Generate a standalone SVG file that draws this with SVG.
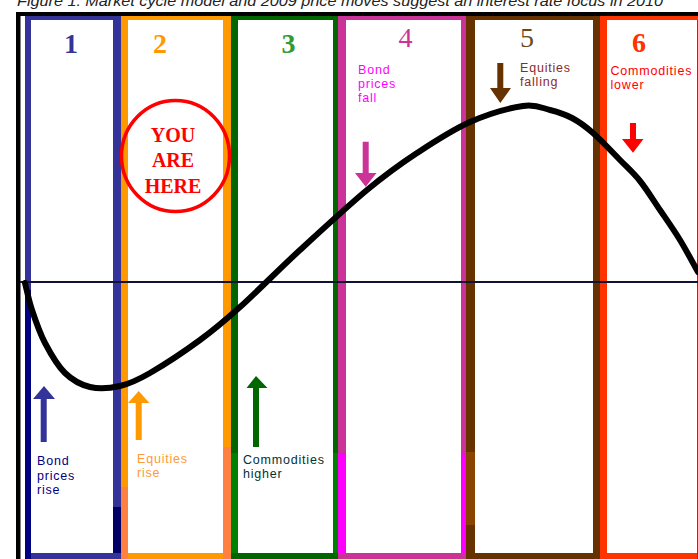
<svg xmlns="http://www.w3.org/2000/svg" width="698" height="559" viewBox="0 0 698 559">
<style>
.num{font-family:"Liberation Serif","Times New Roman",serif;font-size:28px;text-anchor:middle}
.lbl{font-family:"Liberation Sans",Arial,sans-serif;font-size:12.5px;letter-spacing:0.8px}
.here{font-family:"Liberation Serif","Times New Roman",serif;font-size:20px;font-weight:bold;fill:#FF0000;text-anchor:middle}
.inner{fill:#FFFFFF}
</style>
<rect x="0" y="0" width="698" height="559" fill="#FFFFFF"/>
<text x="17" y="5.5" font-family="'Liberation Sans',Arial,sans-serif" font-size="15" font-style="italic" fill="#222222" textLength="646" lengthAdjust="spacingAndGlyphs">Figure 1: Market cycle model and 2009 price moves suggest an interest rate focus in 2010</text>
<g id="frame">
<rect x="16" y="12" width="682" height="4" fill="#000000"/>
<rect x="16" y="12" width="4.5" height="547" fill="#000000"/>
</g>
<g id="phase1">
<rect x="25" y="16" width="96" height="543" fill="#333399"/>
<rect x="25" y="290" width="6" height="269" fill="#000080"/>
<rect x="113" y="507" width="8" height="46" fill="#000066"/>
<rect class="inner" x="31" y="20" width="82" height="533"/>
<text class="num" x="71" y="53" fill="#333399" font-weight="bold">1</text>
<path d="M40.7,442 V399 H33 L44,386 L55,399 H46.7 V442 Z" fill="#333399"/>
<text class="lbl" fill="#000080"><tspan x="37" y="465">Bond</tspan><tspan x="37" y="480">prices</tspan><tspan x="37" y="494">rise</tspan></text>
</g>
<g id="phase2">
<rect x="121" y="16" width="110" height="543" fill="#FF9900"/>
<rect x="121" y="487" width="7" height="72" fill="#FF8040"/>
<rect x="223" y="447" width="8" height="112" fill="#FF8040"/>
<rect class="inner" x="128" y="20" width="95" height="533"/>
<text class="num" x="160" y="53" fill="#FF9900" font-weight="bold">2</text>
<path d="M135.7,440 V403 H128 L138.7,391 L149.4,403 H141.7 V440 Z" fill="#FF9900"/>
<text class="lbl" fill="#FF9933"><tspan x="137" y="463">Equities</tspan><tspan x="137" y="477">rise</tspan></text>
</g>
<g id="phase3">
<rect x="231" y="16" width="107" height="543" fill="#006600"/>
<rect x="231" y="453" width="7" height="100" fill="#008000"/>
<rect x="333" y="453" width="5" height="100" fill="#008000"/>
<rect class="inner" x="238" y="20" width="95" height="533"/>
<text class="num" x="288.5" y="53" fill="#339933" font-weight="bold">3</text>
<path d="M253,447 V388 H246.5 L256,376 L267.5,388 H259 V447 Z" fill="#006600"/>
<text class="lbl" fill="#003333"><tspan x="243" y="464">Commodities</tspan><tspan x="243" y="478">higher</tspan></text>
</g>
<g id="phase4">
<rect x="338" y="16" width="128" height="543" fill="#CC3399"/>
<rect x="338" y="453" width="8" height="100" fill="#FF00FF"/>
<rect x="461" y="453" width="5" height="100" fill="#FF00FF"/>
<rect class="inner" x="346" y="20" width="115" height="533"/>
<text class="num" x="405.5" y="47" fill="#CC3399" font-size="25">4</text>
<path d="M362.7,141.7 V173 H355 L365.7,186.7 L376.5,173 H368.7 V141.7 Z" fill="#CC3399"/>
<text class="lbl" fill="#FF00FF"><tspan x="358" y="74">Bond</tspan><tspan x="358" y="88">prices</tspan><tspan x="358" y="102">fall</tspan></text>
</g>
<g id="phase5">
<rect x="466" y="16" width="134" height="543" fill="#663300"/>
<rect x="466" y="452" width="9" height="73" fill="#884400"/>
<rect class="inner" x="475" y="20" width="118" height="533"/>
<text class="num" x="527" y="47" fill="#6B4A1A">5</text>
<path d="M497.3,63 V88 H490 L500.3,103 L511,88 H503.3 V63 Z" fill="#663300"/>
<text class="lbl" fill="#8B2A2A"><tspan x="520" y="72">Equities</tspan><tspan x="520" y="86">falling</tspan></text>
</g>
<g id="phase6">
<rect x="600" y="16" width="100" height="543" fill="#FF3300"/>
<rect class="inner" x="607" y="20" width="90" height="533"/>
<rect x="697" y="20" width="1" height="539" fill="#FF0000"/>
<text class="num" x="639" y="52" fill="#FF3300" font-weight="bold">6</text>
<path d="M630,123 V139 H622 L633,152.7 L643.5,139 H636 V123 Z" fill="#FF0000"/>
<text class="lbl" fill="#FF0000"><tspan x="610.5" y="75">Commodities</tspan><tspan x="610.5" y="89">lower</tspan></text>
</g>
<g id="you-are-here">
<ellipse cx="175.5" cy="156" rx="54" ry="55.5" fill="none" stroke="#FF0000" stroke-width="3.5"/>
<text class="here" x="173" y="142">YOU</text>
<text class="here" x="173" y="167">ARE</text>
<text class="here" x="173" y="193">HERE</text>
</g>
<g id="connectors">
<line x1="20" y1="282" x2="698" y2="282" stroke="#111133" stroke-width="2"/>
<path d="M25,283 C26.2,287.5 28.7,300 32,310 C35.3,320 39.5,332.5 45,343 C50.5,353.5 57.5,365.7 65,373 C72.5,380.3 80.8,384.8 90,387 C99.2,389.2 110,388.3 120,386 C130,383.7 136.7,380.7 150,373 C163.3,365.3 185,351 200,340 C215,329 223.3,322 240,307 C256.7,292 278.8,269.5 300,250 C321.2,230.5 347.5,206.2 367,190 C386.5,173.8 399.8,164.3 417,153 C434.2,141.7 452.3,129.8 470,122 C487.7,114.2 509.7,108 523,106 C536.3,104 541.8,108 550,110 C558.2,112 564.8,114.2 572,118 C579.2,121.8 585,126 593,133 C601,140 612.2,152 620,160 C627.8,168 633.3,172.7 640,181 C646.7,189.3 653.3,200.2 660,210 C666.7,219.8 673.7,229.7 680,240 C686.3,250.3 695,266.7 698,272" fill="none" stroke="#000000" stroke-width="6" stroke-linecap="round" stroke-linejoin="round"/>
</g>
</svg>
